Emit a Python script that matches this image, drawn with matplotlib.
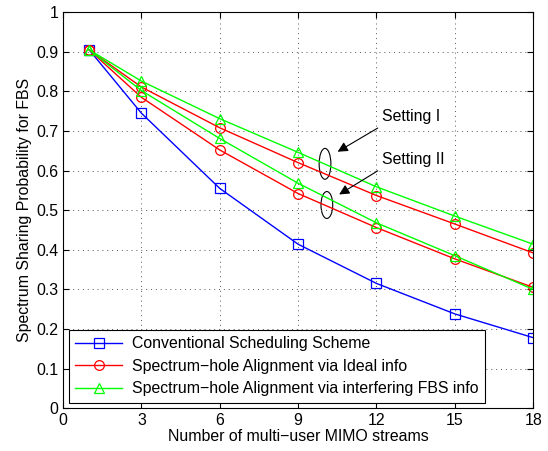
import matplotlib
matplotlib.use('Agg')
import matplotlib.pyplot as plt
from matplotlib.patches import Ellipse

plt.rcParams['font.family'] = ['Liberation Sans', 'DejaVu Sans']

# data
streams = [1, 3, 6, 9, 12, 15, 18]
conventional = [0.905, 0.745, 0.555, 0.414, 0.315, 0.238, 0.178]
ideal_set1 = [0.905, 0.811, 0.708, 0.620, 0.537, 0.465, 0.392]
interf_set1 = [0.905, 0.826, 0.731, 0.646, 0.559, 0.485, 0.414]
ideal_set2 = [0.905, 0.785, 0.652, 0.542, 0.456, 0.377, 0.305]
interf_set2 = [0.905, 0.802, 0.681, 0.568, 0.468, 0.385, 0.300]

xticks = [0, 3, 6, 9, 12, 15, 18]
yticks = [0, 0.1, 0.2, 0.3, 0.4, 0.5, 0.6, 0.7, 0.8, 0.9, 1]

FS = 11.4

fig = plt.figure(figsize=(5.48, 4.51), dpi=100)
ax = fig.add_axes([0.115, 0.095, 0.858, 0.878])

mk = dict(markerfacecolor='none', markersize=7, linewidth=1.0, markeredgewidth=0.9)
l1, = ax.plot(streams, conventional, color='#0000ff', marker='s',
              label='Conventional Scheduling Scheme', **mk)
l2, = ax.plot(streams, ideal_set1, color='#ff0000', marker='o',
              label='Spectrum\u2212hole Alignment via Ideal info', **mk)
l3, = ax.plot(streams, interf_set1, color='#00ff00', marker='^',
              label='Spectrum\u2212hole Alignment via interfering FBS info', **mk)
ax.plot(streams, ideal_set2, color='#ff0000', marker='o', **mk)
ax.plot(streams, interf_set2, color='#00ff00', marker='^', **mk)

# ellipses grouping the settings
ax.add_patch(Ellipse((10.03, 0.617), 0.45, 0.078, fill=False, edgecolor='black', linewidth=0.8))
ax.add_patch(Ellipse((10.1, 0.513), 0.45, 0.068, fill=False, edgecolor='black', linewidth=0.8))

arrow = dict(arrowstyle='-|>', color='black', linewidth=0.8, mutation_scale=15)
ax.annotate('', xy=(10.42, 0.644), xytext=(12.14, 0.711), arrowprops=arrow)
ax.annotate('', xy=(10.48, 0.536), xytext=(12.14, 0.603), arrowprops=arrow)
ax.text(12.2, 0.737, 'Setting I', fontsize=FS, va='center', ha='left')
ax.text(12.2, 0.627, 'Setting II', fontsize=FS, va='center', ha='left')

ax.set_xlim(0, 18)
ax.set_ylim(0, 1)
ax.set_xticks(xticks)
ax.set_yticks(yticks)
ax.set_yticklabels(['0', '0.1', '0.2', '0.3', '0.4', '0.5', '0.6', '0.7', '0.8', '0.9', '1'])
ax.tick_params(direction='in', labelsize=FS, length=4, top=True, right=True)
ax.grid(True, linestyle=(0, (1, 4)), color='#555555', linewidth=0.7)
for s in ax.spines.values():
    s.set_linewidth(0.8)

ax.set_xlabel('Number of multi\u2212user MIMO streams', fontsize=FS, labelpad=1)
ax.set_ylabel('Spectrum Sharing Probability for FBS', fontsize=FS, labelpad=3)

leg = ax.legend(handles=[l1, l2, l3], loc='lower left', fontsize=FS,
                fancybox=False, framealpha=1, edgecolor='black',
                borderaxespad=0.35, handlelength=3.0, labelspacing=0.48,
                borderpad=0.4, handletextpad=0.6)
leg.get_frame().set_linewidth(0.8)

fig.savefig('out.png', dpi=100)
